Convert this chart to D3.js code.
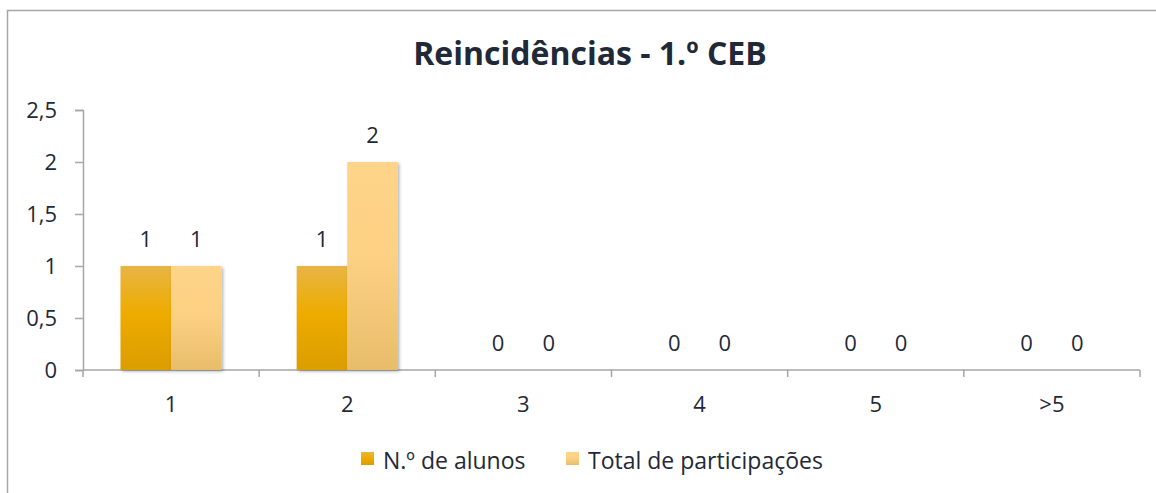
<!DOCTYPE html>
<html>
  <head>
    <meta charset="utf-8" />
    <script src="https://cdn.jsdelivr.net/npm/d3@7/dist/d3.min.js"></script>
    <style>
      body {
        margin: 0;
        background: #fff;
      }
      svg text {
        font-family: "Open Sans", "Noto Sans", sans-serif;
        fill: #1f2937;
      }
    </style>
  </head>
  <body>
    <svg id="chart"></svg>
    <script>
      const categories = ["1", "2", "3", "4", "5", ">5"];
      const seriesNames = ["N.º de alunos", "Total de participações"];
      const alunos = [1, 1, 0, 0, 0, 0];
      const participacoes = [1, 2, 0, 0, 0, 0];
      const yTicks = [0, 0.5, 1, 1.5, 2, 2.5];

      const width = 1156,
        height = 493;

      const svg = d3
        .select("#chart")
        .attr("width", width)
        .attr("height", height);

      // gradients for the two series
      const defs = svg.append("defs");
      const grads = [
        { id: "gDark", stops: ["#e8b545", "#eeac00", "#db9d00"] },
        { id: "gLight", stops: ["#fdd489", "#fdd184", "#e7bd6b"] }
      ];
      grads.forEach(g => {
        const lg = defs
          .append("linearGradient")
          .attr("id", g.id)
          .attr("x1", 0)
          .attr("y1", 0)
          .attr("x2", 0)
          .attr("y2", 1);
        lg.append("stop").attr("offset", "0%").attr("stop-color", g.stops[0]);
        lg.append("stop").attr("offset", "45%").attr("stop-color", g.stops[1]);
        lg.append("stop").attr("offset", "100%").attr("stop-color", g.stops[2]);
      });
      const shadow = defs
        .append("filter")
        .attr("id", "shadow")
        .attr("x", "-10%")
        .attr("y", "-10%")
        .attr("width", "130%")
        .attr("height", "130%");
      shadow
        .append("feDropShadow")
        .attr("dx", 1.5)
        .attr("dy", 1.5)
        .attr("stdDeviation", 1.5)
        .attr("flood-color", "#000")
        .attr("flood-opacity", 0.3);

      // chart frame
      svg
        .append("rect")
        .attr("x", 7.5)
        .attr("y", 10.5)
        .attr("width", width + 10)
        .attr("height", height + 10)
        .attr("fill", "none")
        .attr("stroke", "#a6a6a6")
        .attr("stroke-width", 1.5);

      svg
        .append("text")
        .attr("x", 590)
        .attr("y", 65)
        .attr("text-anchor", "middle")
        .style("font-size", "32px")
        .style("font-weight", "bold")
        .text("Reincidências - 1.º CEB");

      const plot = { left: 83, right: 1140, top: 110, bottom: 370 };

      const x0 = d3
        .scaleBand()
        .domain(categories)
        .range([plot.left, plot.right])
        .paddingInner(0.426)
        .paddingOuter(0.213);

      const x1 = d3
        .scaleBand()
        .domain(seriesNames)
        .range([0, x0.bandwidth()]);

      const y = d3
        .scaleLinear()
        .domain([0, 2.5])
        .range([plot.bottom, plot.top]);

      const axisColor = "#a6a6a6";

      // y axis
      const yAxis = svg
        .append("g")
        .attr("transform", `translate(${plot.left},0)`)
        .call(
          d3
            .axisLeft(y)
            .tickValues(yTicks)
            .tickSize(8)
            .tickPadding(18)
            .tickFormat(d => String(d).replace(".", ","))
        );
      yAxis.select(".domain").attr("stroke", axisColor).attr("stroke-width", 1.5);
      yAxis.selectAll(".tick line").attr("stroke", axisColor).attr("stroke-width", 1.5);
      yAxis.selectAll("text").style("font-size", "22px").attr("fill", "#1f2937");

      // x axis with ticks at category boundaries
      const step = x0.step();
      const xAxis = svg
        .append("g")
        .attr("transform", `translate(0,${plot.bottom})`);
      xAxis
        .append("line")
        .attr("x1", plot.left)
        .attr("x2", plot.right)
        .attr("stroke", axisColor)
        .attr("stroke-width", 1.5);
      xAxis
        .selectAll("line.tk")
        .data(d3.range(categories.length + 1))
        .join("line")
        .attr("class", "tk")
        .attr("x1", i => plot.left + i * step)
        .attr("x2", i => plot.left + i * step)
        .attr("y1", 0)
        .attr("y2", 7)
        .attr("stroke", axisColor)
        .attr("stroke-width", 1.5);
      xAxis
        .selectAll("text")
        .data(categories)
        .join("text")
        .attr("x", d => x0(d) + x0.bandwidth() / 2)
        .attr("y", 42)
        .attr("text-anchor", "middle")
        .style("font-size", "22px")
        .text(d => d);

      // bars
      const rows = categories.map((c, i) => ({
        cat: c,
        vals: [
          { s: seriesNames[0], v: alunos[i], fill: "url(#gDark)" },
          { s: seriesNames[1], v: participacoes[i], fill: "url(#gLight)" }
        ]
      }));

      const groups = svg
        .selectAll("g.grp")
        .data(rows)
        .join("g")
        .attr("class", "grp")
        .attr("transform", d => `translate(${x0(d.cat)},0)`);

      groups
        .selectAll("rect")
        .data(d => d.vals.filter(e => e.v > 0))
        .join("rect")
        .attr("x", d => x1(d.s))
        .attr("y", d => y(d.v))
        .attr("width", x1.bandwidth())
        .attr("height", d => plot.bottom - y(d.v))
        .attr("fill", d => d.fill)
        .attr("filter", "url(#shadow)");

      groups
        .selectAll("text")
        .data(d => d.vals)
        .join("text")
        .attr("x", d => x1(d.s) + x1.bandwidth() / 2)
        .attr("y", d => y(d.v) - 19)
        .attr("text-anchor", "middle")
        .style("font-size", "22px")
        .text(d => d.v);

      // legend
      const legend = svg.append("g");
      const legendItems = [
        { name: seriesNames[0], fill: "url(#gDark)", x: 361 },
        { name: seriesNames[1], fill: "url(#gLight)", x: 566 }
      ];
      legendItems.forEach(it => {
        legend
          .append("rect")
          .attr("x", it.x)
          .attr("y", 452)
          .attr("width", 13)
          .attr("height", 13)
          .attr("fill", it.fill);
        legend
          .append("text")
          .attr("x", it.x + 22)
          .attr("y", 469)
          .style("font-size", "23px")
          .text(it.name);
      });
    </script>
  </body>
</html>
